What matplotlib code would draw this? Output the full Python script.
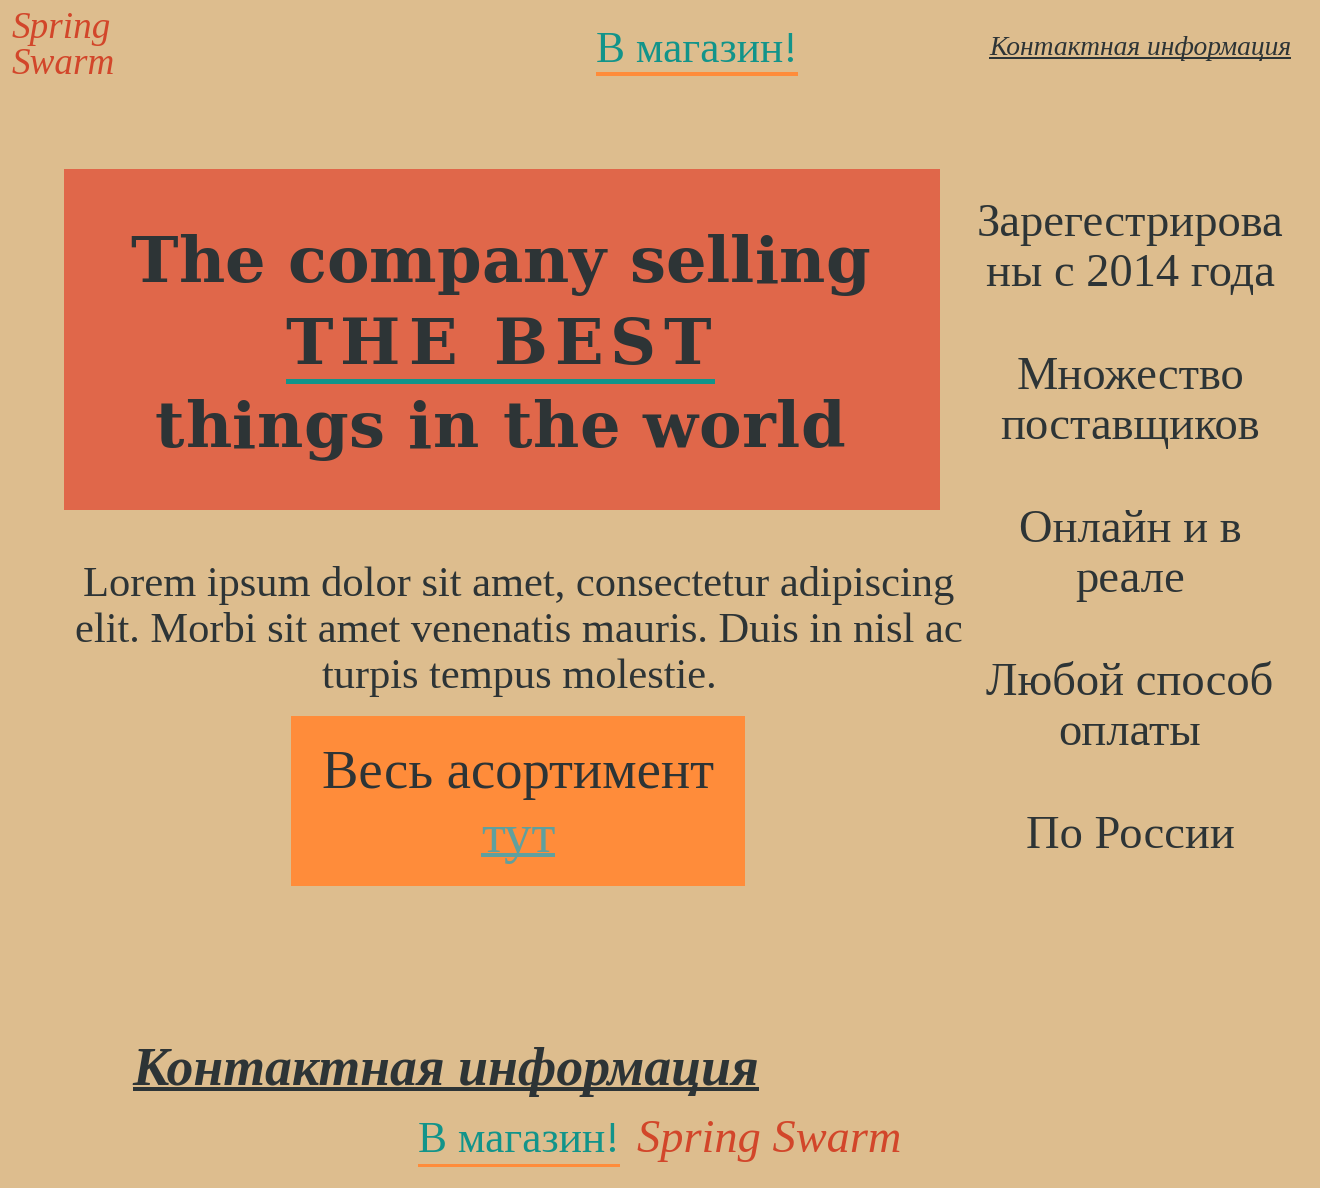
import matplotlib
matplotlib.use("Agg")
import matplotlib.pyplot as plt
from matplotlib.patches import Rectangle

# page colours
BG = "#ddbd8e"
DARK = "#2d3436"
TEAL = "#12948a"
RED_TEXT = "#d2462a"
RED_BOX = "#e0674a"
ORANGE = "#ff8c3a"
TUT = "#5fa09e"
SERIF = ["Liberation Serif", "DejaVu Serif"]
HERO_FONT = ["DejaVu Serif"]

# page texts
brand_lines = ["Spring", "Swarm"]
shop_label = "В магазин!"
contact_label = "Контактная информация"
hero_lines = ["The company selling", "THE BEST", "things in the world"]
lorem_lines = [
    "Lorem ipsum dolor sit amet, consectetur adipiscing",
    "elit. Morbi sit amet venenatis mauris. Duis in nisl ac",
    "turpis tempus molestie.",
]
cta_lines = ["Весь асортимент", "тут"]
features = [
    ["Зарегестрирова", "ны с 2014 года"],
    ["Множество", "поставщиков"],
    ["Онлайн и в", "реале"],
    ["Любой способ", "оплаты"],
    ["По России"],
]
footer_brand = "Spring Swarm"

W, H = 1320, 1188
fig = plt.figure(figsize=(W / 100, H / 100), dpi=100, facecolor=BG)
ax = fig.add_axes([0, 0, 1, 1])
ax.set_xlim(0, W)
ax.set_ylim(H, 0)
ax.axis("off")
fig.canvas.draw()
renderer = fig.canvas.get_renderer()


def width_of(s, size, family=SERIF, **kw):
    t = ax.text(0, 0, s, fontsize=size, family=family, **kw)
    w = t.get_window_extent(renderer).width
    t.remove()
    return w


def size_for(s, width, **kw):
    return 100 * width / width_of(s, 100, **kw)


def put(x, y, s, size, ha="center", **kw):
    t = ax.text(x, y, s, fontsize=size, family=SERIF, ha=ha, va="baseline", **kw)
    bb = t.get_window_extent(renderer)
    return bb.x0, bb.x1


def underline(x0, x1, y0, y1, color):
    ax.add_patch(Rectangle((x0, y0), x1 - x0, y1 - y0, facecolor=color, lw=0))


def spaced(xc, y, s, size, total, **kw):
    # letter-spaced line, drawn glyph by glyph
    full = width_of(s, size, family=HERO_FONT, **kw)
    gap = (total - full) / (len(s) - 1)
    x0 = xc - total / 2
    for i, ch in enumerate(s):
        if ch == " ":
            continue
        off = (width_of(s[: i + 1], size, family=HERO_FONT, **kw)
               - width_of(ch, size, family=HERO_FONT, **kw))
        ax.text(x0 + off + gap * i, y, ch, fontsize=size, family=HERO_FONT,
                ha="left", va="baseline", **kw)
    return x0, x0 + total, gap


# header
s = size_for(brand_lines[1], 103, style="italic")
put(12, 38, brand_lines[0], s, ha="left", style="italic", color=RED_TEXT)
put(12, 74, brand_lines[1], s, ha="left", style="italic", color=RED_TEXT)

s = size_for(shop_label, 202)
x0, x1 = put(697, 62, shop_label, s, color=TEAL)
underline(x0, x1, 72, 76, ORANGE)

s = size_for(contact_label, 303, style="italic")
x0, x1 = put(1140, 55, contact_label, s, style="italic", color=DARK)
underline(x0, x1, 57, 59, DARK)

# hero box
ax.add_patch(Rectangle((64, 169), 876, 341, facecolor=RED_BOX, lw=0))
hero_size = 46
spaced(500, 282, hero_lines[0], hero_size, 740, weight="bold", color=DARK)
x0, x1, gap = spaced(498, 364, hero_lines[1], hero_size, 425, weight="bold", color=DARK)
underline(x0, x1 + gap * 0.6, 379, 384, TEAL)
spaced(500, 447, hero_lines[2], hero_size, 690, weight="bold", color=DARK)

# body text
s = size_for(lorem_lines[0], 872)
for i, line in enumerate(lorem_lines):
    put(519, 596 + 46 * i, line, s, color=DARK)

# call to action box
ax.add_patch(Rectangle((291, 716), 454, 170, facecolor=ORANGE, lw=0))
s = size_for(cta_lines[0], 392)
put(518, 788, cta_lines[0], s, color=DARK)
x0, x1 = put(518, 852, cta_lines[1], s, color=TUT)
underline(x0, x1, 853, 857, TUT)

# right column
s = size_for(features[0][0], 306)
for g, group in enumerate(features):
    for j, line in enumerate(group):
        put(1130, 236 + 153 * g + 50 * j, line, s, color=DARK)

# footer
s = size_for(contact_label, 627, style="italic", weight="bold")
x0, x1 = put(446, 1085, contact_label, s, style="italic", weight="bold", color=DARK)
underline(x0, x1, 1087, 1091, DARK)

s = size_for(shop_label, 202)
x0, x1 = put(519, 1152, shop_label, s, color=TEAL)
underline(x0, x1, 1164, 1167, ORANGE)
s = size_for(footer_brand, 264, style="italic")
put(637, 1152, footer_brand, s, ha="left", style="italic", color=RED_TEXT)

fig.savefig("out.png", dpi=100, facecolor=BG)
